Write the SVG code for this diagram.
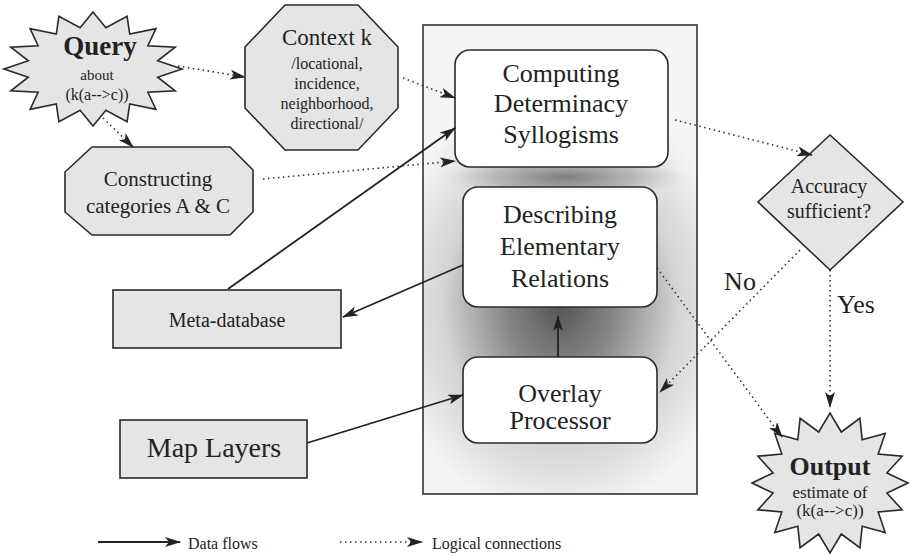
<svg xmlns="http://www.w3.org/2000/svg" width="912" height="557" viewBox="0 0 912 557">
<style>
  text { font-family: "Liberation Serif", "DejaVu Serif", serif; fill: #222; text-anchor: middle; }
  .node { fill: #e5e5e5; stroke: #2a2a2a; stroke-width: 1.6; }
  .wbox { fill: #ffffff; stroke: #2a2a2a; stroke-width: 1.6; }
  .solid { fill: none; stroke: #222; stroke-width: 1.8; marker-end: url(#ah); }
  .dot { fill: none; stroke: #333; stroke-width: 1.6; stroke-dasharray: 1.5 3.5; marker-end: url(#ah); }
  .box26 { font-size: 26px; }
</style>
<defs>
  <marker id="ah" viewBox="0 0 16 10" refX="15" refY="5" markerWidth="16" markerHeight="10" markerUnits="userSpaceOnUse" orient="auto">
    <path d="M0,0 L16,5 L0,10 L4,5 Z" fill="#222"/>
  </marker>
  <radialGradient id="panelGrad" gradientUnits="userSpaceOnUse" cx="560" cy="305" r="180" gradientTransform="translate(560 305) scale(1 1.2) translate(-560 -305)">
    <stop offset="0" stop-color="#555555"/>
    <stop offset="0.3" stop-color="#868686"/>
    <stop offset="0.65" stop-color="#d4d4d4"/>
    <stop offset="1" stop-color="#f5f5f5"/>
  </radialGradient>
  <radialGradient id="stripGrad">
    <stop offset="0" stop-color="#707070" stop-opacity="0.85"/>
    <stop offset="0.6" stop-color="#909090" stop-opacity="0.45"/>
    <stop offset="1" stop-color="#b0b0b0" stop-opacity="0"/>
  </radialGradient>
</defs>
<rect width="912" height="557" fill="#ffffff"/>

<g id="panel">
  <rect x="423" y="25" width="274" height="469" fill="url(#panelGrad)" stroke="#333" stroke-width="1.6"/>
  <ellipse cx="565" cy="177" rx="120" ry="22" fill="url(#stripGrad)"/>
</g>

<g id="query">
  <polygon class="node" points="182,69 157.7,77.2 175.2,90.8 147.9,92.3 155.9,109.3 129.7,103.9 127.1,121.7 105.9,110.2 93,126 80.1,110.2 58.9,121.7 56.3,103.9 30.1,109.3 38.1,92.3 10.8,90.8 28.3,77.2 4,69 28.3,60.8 10.8,47.2 38.1,45.7 30.1,28.7 56.3,34.1 58.9,16.3 80.1,27.8 93,12 105.9,27.8 127.1,16.3 129.7,34.1 155.9,28.7 147.9,45.7 175.2,47.2 157.7,60.8"/>
  <text x="100" y="55" font-size="27" font-weight="bold">Query</text>
  <text x="97" y="80" font-size="15">about</text>
  <text x="97" y="100" font-size="16">(k(a--&gt;c))</text>
</g>

<g id="context">
  <polygon class="node" points="285,5 358,5 398,47 398,108 358,150 285,150 245,108 245,47"/>
  <text x="327" y="45" font-size="23">Context k</text>
  <text x="327" y="69" font-size="16">/locational,</text>
  <text x="327" y="89" font-size="16">incidence,</text>
  <text x="327" y="109" font-size="16">neighborhood,</text>
  <text x="327" y="129" font-size="16">directional/</text>
</g>

<g id="constructing">
  <polygon class="node" points="92,147 230,147 253,170 253,212 230,235 92,235 65,212 65,172"/>
  <text x="158" y="186" font-size="21">Constructing</text>
  <text x="158" y="213" font-size="21">categories A &amp; C</text>
</g>

<g id="computing">
  <rect class="wbox" x="455" y="50" width="213" height="117" rx="15"/>
  <text class="box26" x="561" y="82">Computing</text>
  <text class="box26" x="561" y="112">Determinacy</text>
  <text class="box26" x="561" y="143">Syllogisms</text>
</g>

<g id="describing">
  <rect class="wbox" x="463" y="187" width="194" height="120" rx="15"/>
  <text class="box26" x="560" y="223">Describing</text>
  <text class="box26" x="560" y="255">Elementary</text>
  <text class="box26" x="560" y="287">Relations</text>
</g>

<g id="overlay">
  <rect class="wbox" x="463" y="357" width="194" height="86" rx="15"/>
  <text class="box26" x="560" y="402">Overlay</text>
  <text class="box26" x="560" y="429">Processor</text>
</g>

<g id="metadatabase">
  <rect class="node" x="113" y="290" width="228" height="58"/>
  <text x="227" y="327" font-size="20">Meta-database</text>
</g>

<g id="maplayers">
  <rect class="node" x="120" y="420" width="187" height="58"/>
  <text x="214" y="457" font-size="28">Map Layers</text>
</g>

<g id="accuracy">
  <polygon class="node" points="830,135 903,202 830,270 758,202"/>
  <text x="829" y="193" font-size="20">Accuracy</text>
  <text x="829" y="218" font-size="20">sufficient?</text>
</g>

<g id="output">
  <polygon class="node" points="908,483 886.9,493.1 902.1,509.8 878.2,511.9 885.2,532.5 862.2,526.2 859.9,547.7 841.3,534 830,553 818.7,534 800.1,547.7 797.8,526.2 774.8,532.5 781.8,511.9 757.9,509.8 773.1,493.1 752,483 773.1,472.9 757.9,456.2 781.8,454.1 774.8,433.5 797.8,439.8 800.1,418.3 818.7,432 830,413 841.3,432 859.9,418.3 862.2,439.8 885.2,433.5 878.2,454.1 902.1,456.2 886.9,472.9"/>
  <text x="830" y="475" font-size="26" font-weight="bold">Output</text>
  <text x="830" y="498" font-size="17">estimate of</text>
  <text x="830" y="516" font-size="17">(k(a--&gt;c))</text>
</g>

<g id="connectors">
  <path class="dot" d="M178,66 L245,77"/>
  <path class="dot" d="M103,118 L133,147"/>
  <path class="dot" d="M403,78 L455,98"/>
  <path class="dot" d="M263,179 L455,161"/>
  <path class="solid" d="M228,289 L455,128"/>
  <path class="solid" d="M463,265 L343,317"/>
  <path class="solid" d="M307,443 L463,395"/>
  <path class="solid" d="M558,357 L558,316"/>
  <path class="dot" d="M675,120 L812,155"/>
  <path class="dot" d="M800,250 L660,392"/>
  <path class="dot" d="M657,268 L782,437"/>
  <path class="dot" d="M830,270 L830,407"/>
  <text x="740" y="290" font-size="26">No</text>
  <text x="856" y="313" font-size="26">Yes</text>
</g>

<g id="legend">
  <path class="solid" d="M98,542 L180,542"/>
  <text x="188" y="549" font-size="16" style="text-anchor:start">Data flows</text>
  <path class="dot" d="M340,542 L422,542"/>
  <text x="432" y="549" font-size="16" style="text-anchor:start">Logical connections</text>
</g>
</svg>
